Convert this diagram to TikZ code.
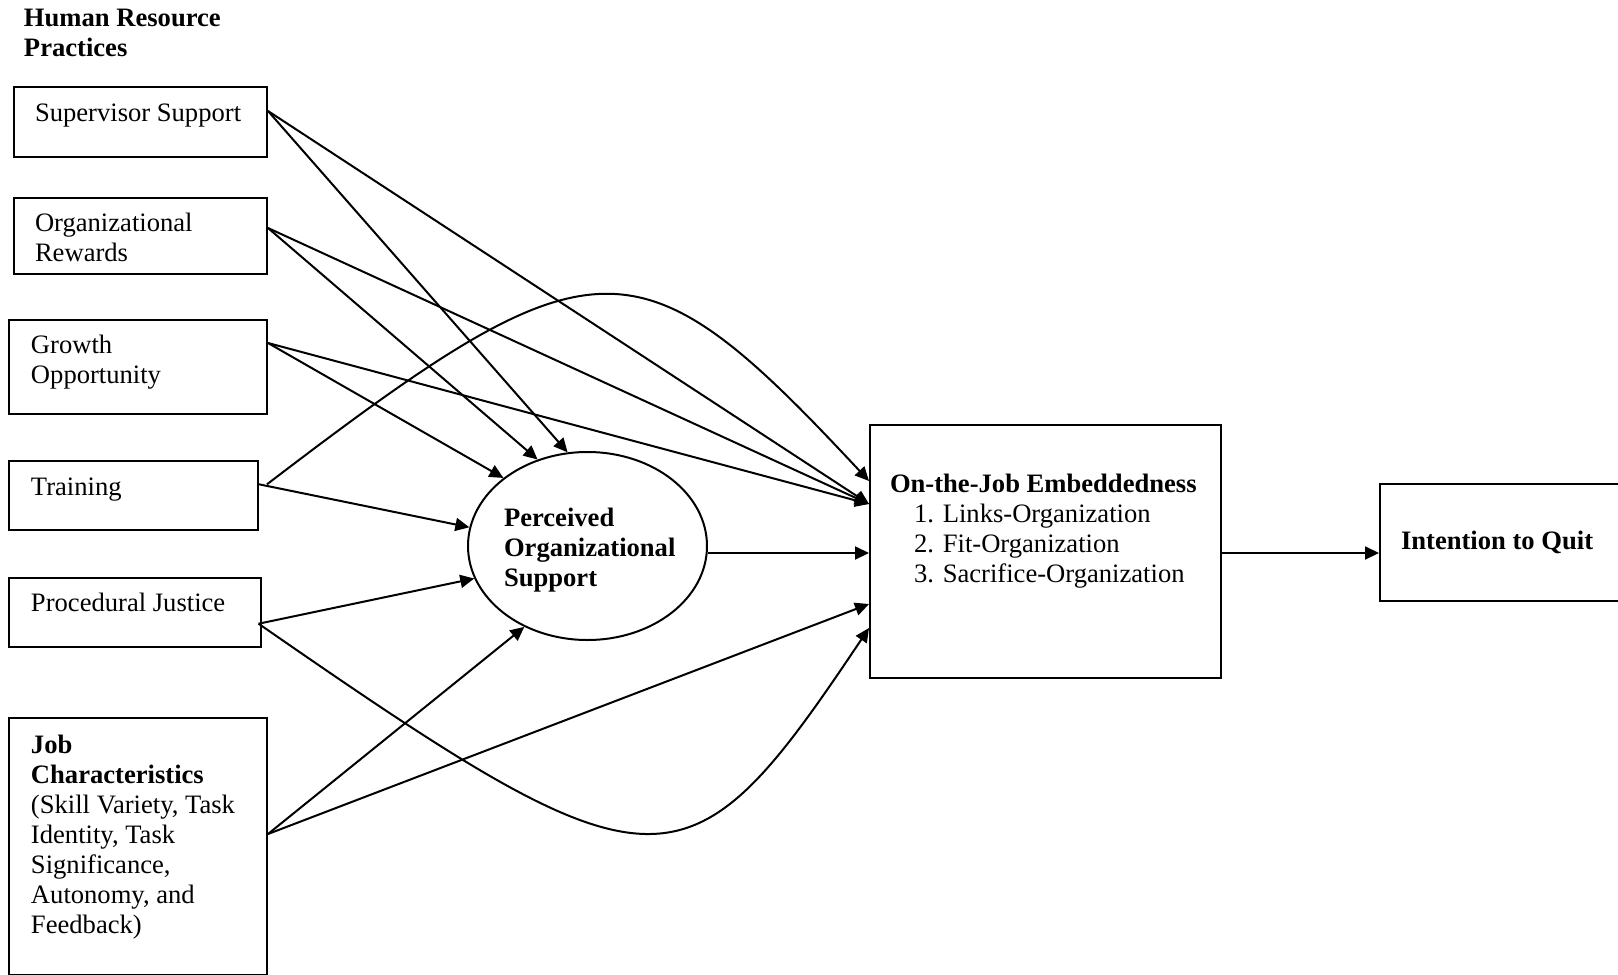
\documentclass[tikz,border=0pt]{standalone}
\usepackage{fontspec}
\setmainfont{Liberation Serif}
\usetikzlibrary{arrows.meta,calc,shapes.geometric}
\newcommand{\mylines}[1]{\begin{tabular}[t]{@{}l@{}}#1\end{tabular}}
\begin{document}
\begin{tikzpicture}[x=0.5pt,y=-0.5pt,line width=1pt,
  box/.style={draw,line width=1pt,rectangle,anchor=north west,inner sep=0pt},
  txt/.style={anchor=base west,inner sep=0pt,font=\fontsize{13.3}{15}\selectfont},
  btxt/.style={anchor=base west,inner sep=0pt,font=\fontsize{13.3}{15}\selectfont\bfseries},
  arr/.style={-{Triangle[length=7pt,width=6.5pt]},line width=1pt}]
\clip (0,0) rectangle (1618,975);
% boxes
\node[box,minimum width=126.5pt,minimum height=35pt] (ss) at (13,86) {};
\node[box,minimum width=126.5pt,minimum height=38pt] (or) at (13,197) {};
\node[box,minimum width=129pt,minimum height=47pt] (go) at (8,319) {};
\node[box,minimum width=124.5pt,minimum height=34.5pt] (tr) at (8,460) {};
\node[box,minimum width=126pt,minimum height=34.5pt] (pj) at (8,577) {};
\node[box,minimum width=129pt,minimum height=128.5pt] (jc) at (8,717) {};
\node[box,minimum width=175.5pt,minimum height=126.5pt] (em) at (869,424) {};
\node[box,minimum width=130pt,minimum height=58.5pt] (iq) at (1379,483) {};
\node[draw,ellipse,line width=1pt,inner sep=0pt,minimum width=119.5pt,minimum height=94pt] (posn) at (587.5,546) {};
% texts
\node[btxt] (title) at (23,26.7) {\mylines{Human Resource\\Practices}};
\node[txt] (ssT) at (34,121) {Supervisor Support};
\node[txt] (orT) at (34,231.7) {\mylines{Organizational\\Rewards}};
\node[txt] (goT) at (30,353) {\mylines{Growth\\Opportunity}};
\node[txt] (trT) at (30,495) {Training};
\node[txt] (pjT) at (30,611.7) {Procedural Justice};
\node[txt] (jcT) at (30,753) {\mylines{\textbf{Job}\\\textbf{Characteristics}\\(Skill Variety, Task\\Identity, Task\\Significance,\\Autonomy, and\\Feedback)}};
\node[btxt] (posT) at (503,526) {\mylines{Perceived\\Organizational\\Support}};
\node[btxt] (emT) at (889,492) {On-the-Job Embeddedness};
\node[txt] (emL) at (913,522) {\mylines{1. Links-Organization\\2. Fit-Organization\\3. Sacrifice-Organization}};
\node[btxt] (iqT) at (1400,549) {Intention to Quit};
% arrows to POS
\draw[arr] ([yshift=5.5pt]ss.east) -- (posn.102);
\draw[arr] ([yshift=4pt]or.east) -- (posn.120);
\draw[arr] ([yshift=12pt]go.east) -- (posn.141);
\draw[arr] ([yshift=5.6pt]tr.east) -- (posn.171);
\draw[arr] ([xshift=-1.7pt,yshift=-5.6pt]pj.east) -- (posn.196);
\draw[arr] ([yshift=6.25pt]jc.east) -- (posn.232);
% arrows to embeddedness
\draw[arr] ([yshift=5.5pt]ss.east) -- ([yshift=23.75pt]em.west);
\draw[arr] ([yshift=4pt]or.east) -- ([yshift=23.75pt]em.west);
\draw[arr] ([yshift=12pt]go.east) -- ([yshift=23.75pt]em.west);
\draw[arr] ([xshift=4pt,yshift=5.6pt]tr.east) .. controls (596,233) and (637,232) .. ([yshift=35.25pt]em.west);
\draw[arr] ([xshift=-1.7pt,yshift=-5.6pt]pj.east) .. controls (660,902) and (686.5,901) .. ([yshift=-38.25pt]em.west);
\draw[arr] ([yshift=6.25pt]jc.east) -- ([yshift=-26.25pt]em.west);
\draw[arr] ([yshift=-3.5pt]posn.east) -- ([yshift=-3.5pt]posn.east -| em.west);
\draw[arr] ([yshift=-0.75pt]em.east) -- ([yshift=-0.75pt]em.east -| iq.west);
\end{tikzpicture}
\end{document}
